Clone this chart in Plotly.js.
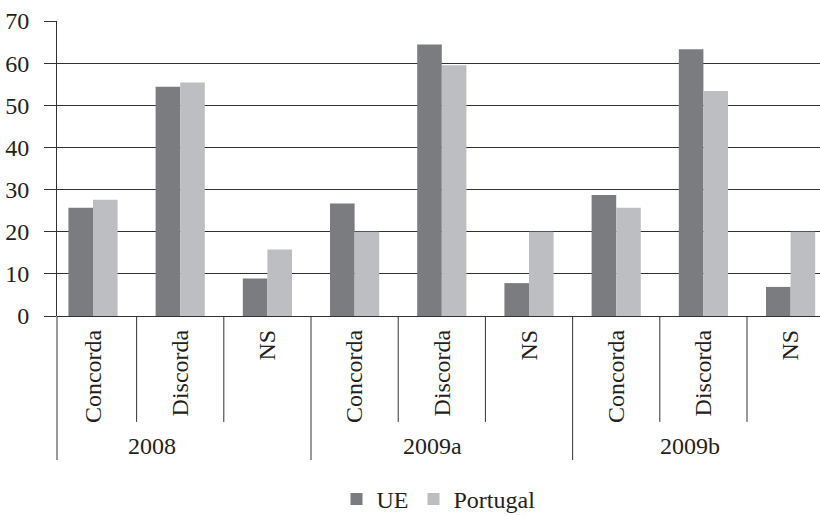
<!DOCTYPE html>
<html>
<head>
<meta charset="utf-8">
<script src="https://cdn.plot.ly/plotly-3.0.1.min.js"></script>
<style>html,body{margin:0;padding:0;background:#fff;}#chart{width:820px;height:516px;}</style>
</head>
<body>
<div id="chart"></div>
<script>
// ---- data ----
var groups = ['2008', '2009a', '2009b'];
var answers = ['Concorda', 'Discorda', 'NS'];
var seriesNames = ['UE', 'Portugal'];
var ueValues = [25.7, 54.4, 8.9, 26.7, 64.4, 7.8, 28.7, 63.3, 6.9];
var portugalValues = [27.6, 55.4, 15.8, 20.0, 59.5, 20.0, 25.7, 53.4, 20.0];
var yTickValues = [0, 10, 20, 30, 40, 50, 60, 70];

// ---- build ----
var tickLabels = [];
var xIdx = [];
groups.forEach(function (g, gi) {
  answers.forEach(function (a, ai) {
    tickLabels.push(a);
    xIdx.push(gi * answers.length + ai);
  });
});

var FONT = '"Liberation Serif", "DejaVu Serif", serif';
var FS = 24;
var TXT = '#231f20';
var C_UE = '#7b7c80';
var C_PT = '#bdbec2';

var traces = [
  { type: 'bar', name: seriesNames[0], x: xIdx, y: ueValues,
    marker: { color: C_UE, line: { width: 0 } } },
  { type: 'bar', name: seriesNames[1], x: xIdx, y: portugalValues,
    marker: { color: C_PT, line: { width: 0 } } }
];

var innerBottom = -0.359;   // paper y of inner separators' lower end
var outerBottom = -0.488;   // paper y of group dividers' lower end
var shapes = [];
var nCat = xIdx.length;
for (var b = 0; b < nCat - 1; b++) {
  var boundary = b + 0.5;
  var isGroupEdge = ((b + 1) % answers.length === 0);
  shapes.push({ type: 'line', xref: 'x', yref: 'paper',
    x0: boundary, x1: boundary, y0: 0, y1: isGroupEdge ? outerBottom : innerBottom,
    line: { color: '#333', width: 1 } });
}
shapes.push({ type: 'line', xref: 'paper', yref: 'paper',
  x0: 0, x1: 0, y0: 0, y1: outerBottom, line: { color: '#333', width: 1 } });

var groupShift = [-28, -9, -13];
var annotations = groups.map(function (g, gi) {
  return { text: g, xref: 'x', yref: 'paper',
    x: gi * answers.length + (answers.length - 1) / 2, y: -0.44,
    xshift: groupShift[gi],
    showarrow: false, xanchor: 'center', yanchor: 'middle',
    font: { family: FONT, size: FS, color: TXT } };
});

var layout = {
  width: 820, height: 516,
  margin: { l: 57, r: 0, t: 21, b: 200, autoexpand: false },
  paper_bgcolor: '#fff', plot_bgcolor: '#fff',
  barmode: 'group', bargap: 0.436, bargroupgap: 0,
  showlegend: true,
  legend: { orientation: 'h', x: 0.5, xanchor: 'center', y: -0.622, yanchor: 'middle',
    font: { family: FONT, size: FS, color: TXT }, traceorder: 'normal' },
  font: { family: FONT, size: FS, color: TXT },
  xaxis: {
    type: 'linear', range: [-0.413, 8.337], automargin: false,
    tickmode: 'array', tickvals: xIdx, ticktext: tickLabels,
    tickangle: -90, ticks: '', showgrid: false, zeroline: false,
    showline: false, ticklabelstandoff: 8,
    tickfont: { family: FONT, size: FS, color: TXT }
  },
  yaxis: {
    range: [0, 70], automargin: false, tickmode: 'array', tickvals: yTickValues,
    ticks: 'outside', ticklen: 12, tickcolor: '#333', tickwidth: 1,
    showgrid: true, gridcolor: '#333', gridwidth: 1,
    zeroline: true, zerolinecolor: '#333', zerolinewidth: 1,
    showline: true, linecolor: '#333', linewidth: 1,
    ticklabelstandoff: 10,
    tickfont: { family: FONT, size: FS, color: TXT }
  },
  shapes: shapes,
  annotations: annotations
};

Plotly.newPlot('chart', traces, layout, { displayModeBar: false, staticPlot: true });
</script>
</body>
</html>
